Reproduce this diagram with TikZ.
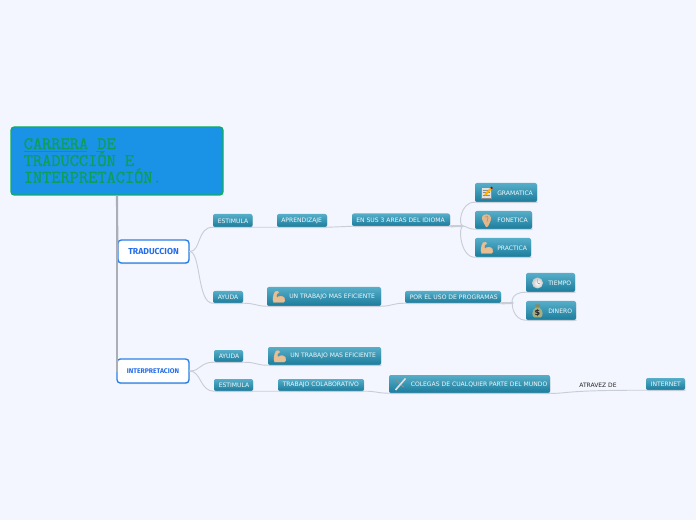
\documentclass[tikz,border=0pt]{standalone}
\usepackage{fontspec}
\setmainfont{DejaVu Sans}
\newfontfamily\mainlabelfont{Fira Sans}
\newfontfamily\rootfont[FakeBold=0.6]{Latin Modern Mono}
\usetikzlibrary{shadows}
\definecolor{pagebg}{HTML}{F3F6FE}
\definecolor{rootfill}{HTML}{1A92E6}
\definecolor{rootline}{HTML}{0DAF5F}
\definecolor{roottext}{HTML}{0BA058}
\definecolor{mainline}{HTML}{2A80E4}
\definecolor{tealtop}{HTML}{56AEC9}
\definecolor{tealbot}{HTML}{1B7C9C}
\definecolor{conn}{HTML}{C9CDD6}
\definecolor{trunk}{HTML}{ABAEB5}
\definecolor{skin}{HTML}{E8BE93}
\definecolor{skindark}{HTML}{C98F5E}
\definecolor{bagcol}{HTML}{A9AE7E}
\tikzset{
  x=0.75pt,y=-0.75pt,
  tealbox/.style={rounded corners=1.5pt,top color=tealtop,bottom color=tealbot,draw=none,inner sep=0pt,
    drop shadow={shadow xshift=0.3pt,shadow yshift=-0.8pt,fill=black,opacity=0.12}},
  teallabel/.style={text=white!92!tealtop,font=\fontsize{4.55}{5}\selectfont,inner sep=0pt,anchor=west},
  rootbox/.style={rounded corners=2.5pt,fill=rootfill,draw=rootline,line width=1pt,inner sep=0pt},
  mainbox/.style={rounded corners=2.5pt,fill=white,draw=mainline,line width=1pt,inner sep=0pt,
    drop shadow={shadow xshift=0.3pt,shadow yshift=-0.8pt,fill=black,opacity=0.15}},
  mainlabel/.style={text=mainline!85!blue,font=\mainlabelfont\bfseries\fontsize{#1}{8}\selectfont,inner sep=0pt},
  link/.style={draw=conn,line width=0.7pt,line cap=round},
  fatlink/.style={draw=conn,line width=1.6pt},
  trunkline/.style={draw=trunk,line width=1.6pt}
}
\newcommand{\tbox}[7]{%
  \node[tealbox,minimum width={(#4-#2)*0.75pt},minimum height={(#5-#3)*0.75pt}] (#1) at ({(#2+#4)/2},{(#3+#5)/2}) {};
  \node[teallabel] (#1-t) at (#6,{(#3+#5)/2+0.3}) {#7};
}
\newcommand{\armicon}[2]{\begin{scope}[shift={(#1,#2)}]
  \fill[skin,draw=skindark!70,line width=0.2pt] (-5,5.5) .. controls (-6.5,2) and (-5,-3) .. (-3.5,-5.5) -- (-1,-6) -- (0.5,-4.5) -- (-1.5,-3) .. controls (-2,-2) and (-2.2,-0.5) .. (-1.5,0.5) .. controls (1,-1.5) and (4,-1.5) .. (6,1) .. controls (7,3) and (6.5,5) .. (5,5.5) -- cycle;
\end{scope}}
\begin{document}
\begin{tikzpicture}
\useasboundingbox (0,0) rectangle (696,520);
\fill[pagebg] (0,0) rectangle (696,520);

% root and main topics
\node[rootbox,minimum width={212*0.75pt},minimum height={68*0.75pt}] (root) at (117,161) {};
\node[text=roottext,font=\rootfont\fontsize{13.4}{12.6}\selectfont,align=left,inner sep=0pt,anchor=west] (rootlabel) at (23.5,160.5)
  {CARRERA DE\\TRADUCCIÓN E\\INTERPRETACIÓN.};
\draw[roottext,line width=0.35pt] (24,151) -- (87,151) (96,151) -- (105,151);
\node[mainbox,minimum width={71*0.75pt},minimum height={23*0.75pt}] (trad) at (153.5,251.5) {};
\node[mainlabel=6.5] (tradlabel) at (153.5,251.5) {TRADUCCION};
\node[mainbox,minimum width={72*0.75pt},minimum height={24*0.75pt}] (interp) at (153,371) {};
\node[mainlabel=5.1] (interplabel) at (153,371) {INTERPRETACION};

% teal topics
\tbox{est}{213}{214}{252.5}{227}{217.5}{ESTIMULA}
\tbox{apr}{277}{214}{327}{227}{281}{APRENDIZAJE}
\tbox{areas}{352}{213.5}{450}{226}{356}{EN SUS 3 AREAS DEL IDIOMA}
\tbox{gram}{475}{183}{537}{202}{497}{GRAMATICA}
\tbox{fon}{475}{211}{532}{229}{497}{FONETICA}
\tbox{prac}{475}{238}{531}{257}{497}{PRACTICA}
\tbox{ayu}{213}{291}{243}{303}{217.5}{AYUDA}
\tbox{tra}{267}{287}{381}{306}{289}{UN TRABAJO MAS EFICIENTE}
\tbox{por}{405}{291}{501}{303}{409.5}{POR EL USO DE PROGRAMAS}
\tbox{tie}{526}{273}{575}{292}{548}{TIEMPO}
\tbox{din}{526}{301}{576}{320}{548}{DINERO}
\tbox{ayub}{214}{350}{243}{362}{218.5}{AYUDA}
\tbox{trab}{268}{347}{381}{365}{290}{UN TRABAJO MAS EFICIENTE}
\tbox{estb}{214}{379}{253}{391}{218.5}{ESTIMULA}
\tbox{col}{278}{379}{364}{391}{282.5}{TRABAJO COLABORATIVO}
\tbox{cole}{389}{375}{550}{393}{410.5}{COLEGAS DE CUALQUIER PARTE DEL MUNDO}
\tbox{int}{646}{378}{685}{390}{650.5}{INTERNET}
\node[font=\fontsize{4.5}{5}\selectfont,text=black!85,inner sep=0pt] (atr) at (598,385) {ATRAVEZ DE};

% icons
\begin{scope}[shift={(486.5,192.5)}]
  \fill[white!88!black,draw=black!45,line width=0.2pt] (-5.5,-5.5) rectangle (4.5,6);
  \draw[black!45,line width=0.25pt] (-4,-2.5) -- (3,-2.5) (-4,0) -- (3,0) (-4,2.5) -- (3,2.5);
  \draw[orange!60!yellow,line width=1.5pt] (-1.5,2.5) -- (4.5,-4);
  \draw[red!70!black,line width=1.5pt] (4.5,-4) -- (5.6,-5.2);
\end{scope}
\begin{scope}[shift={(486.5,220)}]
  \fill[skin!85!skindark] (-0.5,7) .. controls (-2,4) and (-5,0) .. (-4.5,-3) .. controls (-4,-6.5) and (4,-7) .. (4.5,-2.5) .. controls (4.8,1) and (2,5) .. (1.5,6.5) .. controls (1,7.5) and (0,7.5) .. (-0.5,7) -- cycle;
  \draw[skindark,line width=0.5pt] (-1.5,-3) .. controls (0,-5) and (2.5,-3) .. (1,-0.5) -- (0.5,2);
\end{scope}
\armicon{486.5}{248}
\armicon{278.5}{297}
\armicon{279.5}{356.5}
\begin{scope}[shift={(537.5,283)}]
  \shade[inner color=white,outer color=black!22] (0,0) circle (5.5);
  \draw[black!55,line width=0.3pt] (0,-3.5) -- (0,0) -- (2.5,1);
\end{scope}
\begin{scope}[shift={(537.5,311)}]
  \fill[bagcol] (-1.8,-3.5) .. controls (-6,-1) and (-6,6) .. (-3,6.5) -- (3,6.5) .. controls (6,6) and (6,-1) .. (1.8,-3.5) -- cycle;
  \fill[bagcol!80!black] (-2.5,-6.5) -- (2.5,-6.5) -- (1.5,-3.5) -- (-1.5,-3.5) -- cycle;
  \node[font=\bfseries\fontsize{6}{6}\selectfont,text=black!85,inner sep=0pt] (bagsign) at (0,1.8) {\$};
\end{scope}
\begin{scope}[shift={(400.5,384)}]
  \draw[black!45,line width=1pt] (-4,-4) -- (3,3);
  \draw[white!88!black,line width=1.2pt] (-5,6) -- (5,-5.5);
\end{scope}

% junctions
\coordinate (j1) at (463,226);
\coordinate (j2) at (513,303);

% trunk
\draw[trunkline] (root.south) -- (trad.west);
\draw[trunkline] (root.south) |- (interp.west);

% connectors
\draw[link] (trad.east) .. controls (201,252) and (197,227) .. (est.south west) -- (est.south east) -- (apr.south west) -- (apr.south east) -- (areas.south west) -- (areas.south east);
\draw[fatlink] (areas.south east) -- (j1);
\draw[link] (j1) .. controls (458,226) and (460,202) .. (gram.south west) -- (gram.south east);
\draw[link] (j1) .. controls (466,226) and (468,229) .. (fon.south west) -- (fon.south east);
\draw[link] (j1) .. controls (458,226) and (460,257) .. (prac.south west) -- (prac.south east);
\draw[link] (trad.east) .. controls (201,252) and (197,303) .. (ayu.south west) -- (ayu.south east) .. controls (255,303) and (255,306) .. (tra.south west) -- (tra.south east) .. controls (393,306) and (393,303) .. (por.south west) -- (por.south east);
\draw[fatlink] (por.south east) -- (j2);
\draw[link] (j2) .. controls (511,303) and (511,292) .. (tie.south west) -- (tie.south east);
\draw[link] (j2) .. controls (511,303) and (513,320) .. (din.south west) -- (din.south east);
\draw[link] (interp.east) .. controls (201,371) and (200,362) .. (ayub.south west) -- (ayub.south east) .. controls (256,362) and (255,365) .. (trab.south west) -- (trab.south east);
\draw[link] (interp.east) .. controls (201,371) and (200,391) .. (estb.south west) -- (estb.south east) -- (col.south west) -- (col.south east) .. controls (376,391) and (376,393) .. (cole.south west) -- (cole.south east) .. controls (566,394) and (562,390) .. (int.south west) -- (int.south east);
\end{tikzpicture}
\end{document}
